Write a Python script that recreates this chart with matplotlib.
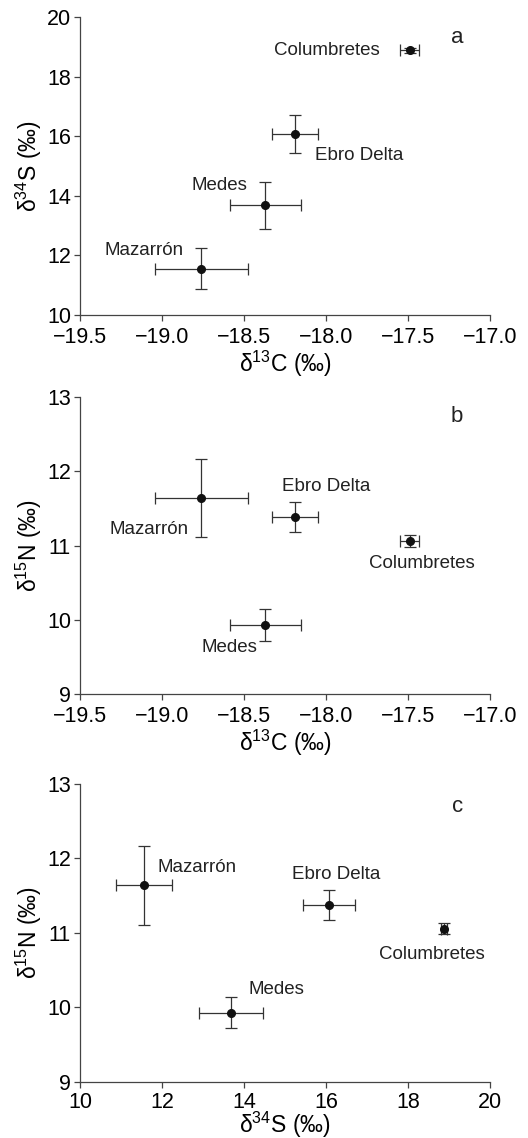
import matplotlib
matplotlib.use("Agg")
import matplotlib.pyplot as plt

plt.rcParams["font.family"] = ["Liberation Sans", "DejaVu Sans"]
plt.rcParams["mathtext.fontset"] = "custom"
plt.rcParams["mathtext.rm"] = "Liberation Sans"
plt.rcParams["mathtext.default"] = "regular"

sites = ["Mazarrón", "Medes", "Ebro Delta", "Columbretes"]

d13c = [-18.76, -18.37, -18.19, -17.49]
d13c_err = [0.285, 0.218, 0.14, 0.058]

d34s = [11.56, 13.68, 16.08, 18.88]
d34s_err = [0.69, 0.78, 0.63, 0.08]

d15n = [11.64, 9.93, 11.38, 11.06]
d15n_err = [0.53, 0.21, 0.2, 0.08]

# label anchor points (data coords) and alignment per panel
labels_a = [(-18.87, 12.18, "right"), (-18.48, 14.33, "right"),
            (-18.07, 15.34, "left"), (-17.67, 18.89, "right")]
labels_b = [(-19.32, 11.22, "left"), (-18.76, 9.62, "left"),
            (-18.27, 11.79, "left"), (-17.74, 10.76, "left")]
labels_c = [(11.89, 11.88, "left"), (14.1, 10.24, "left"),
            (15.18, 11.78, "left"), (17.29, 10.71, "left")]

xlab_c = "δ$^{13}$C (‰)"
xlab_s = "δ$^{34}$S (‰)"
ylab_s = "δ$^{34}$S (‰)"
ylab_n = "δ$^{15}$N (‰)"

fig = plt.figure(figsize=(5.28, 11.38), dpi=100)

panels = [
    dict(rect=[0.1515, 0.7232, 0.7765, 0.2618], x=d13c, xe=d13c_err, y=d34s, ye=d34s_err,
         xlim=(-19.5, -17.0), ylim=(10, 20), xt=[-19.5, -19.0, -18.5, -18.0, -17.5, -17.0],
         yt=[10, 12, 14, 16, 18, 20], xl=xlab_c, yl=ylab_s, labels=labels_a,
         letter="a", lpos=(-17.2, 19.33), fmt="{:.1f}", xpad=1, tpad=4),
    dict(rect=[0.1515, 0.3902, 0.7765, 0.2609], x=d13c, xe=d13c_err, y=d15n, ye=d15n_err,
         xlim=(-19.5, -17.0), ylim=(9, 13), xt=[-19.5, -19.0, -18.5, -18.0, -17.5, -17.0],
         yt=[9, 10, 11, 12, 13], xl=xlab_c, yl=ylab_n, labels=labels_b,
         letter="b", lpos=(-17.2, 12.74), fmt="{:.1f}", xpad=1, tpad=4),
    dict(rect=[0.1515, 0.0492, 0.7765, 0.2619], x=d34s, xe=d34s_err, y=d15n, ye=d15n_err,
         xlim=(10, 20), ylim=(9, 13), xt=[10, 12, 14, 16, 18, 20],
         yt=[9, 10, 11, 12, 13], xl=xlab_s, yl=ylab_n, labels=labels_c,
         letter="c", lpos=(19.21, 12.70), fmt="{:.0f}", xpad=-2, tpad=2.5),
]

for p in panels:
    ax = fig.add_axes(p["rect"])
    ax.errorbar(p["x"], p["y"], xerr=p["xe"], yerr=p["ye"], fmt="o", color="#111111",
                ecolor="#333333", elinewidth=0.9, capsize=4, capthick=0.9,
                markersize=5.5, clip_on=False)
    ax.set_xlim(*p["xlim"])
    ax.set_ylim(*p["ylim"])
    ax.set_xticks(p["xt"])
    ax.set_xticklabels([p["fmt"].format(v).replace("-", "\u2212") for v in p["xt"]])
    ax.set_yticks(p["yt"])
    ax.spines["top"].set_visible(False)
    ax.spines["right"].set_visible(False)
    for s in ["left", "bottom"]:
        ax.spines[s].set_color("#444444")
        ax.spines[s].set_linewidth(0.9)
    ax.tick_params(direction="out", length=4.5, width=0.9, color="#444444",
                   labelsize=15.5, pad=2)
    ax.tick_params(axis="x", pad=p["tpad"])
    ax.set_xlabel(p["xl"], fontsize=16.5, labelpad=p["xpad"])
    ax.set_ylabel(p["yl"], fontsize=16.5, labelpad=2)
    for (lx, ly, ha), name in zip(p["labels"], sites):
        ax.text(lx, ly, name, ha=ha, va="center", fontsize=13.5, color="#222222")
    ax.text(p["lpos"][0], p["lpos"][1], p["letter"], ha="center", va="center",
            fontsize=16, color="#222222")

fig.savefig("out.png", dpi=100)
